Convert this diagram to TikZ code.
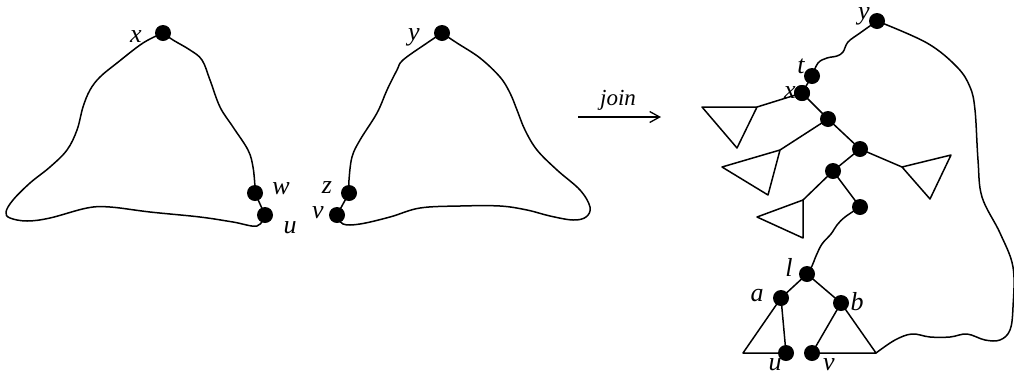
\documentclass[tikz,border=0pt]{standalone}
\usepackage{fontspec}
\setmainfont{Liberation Serif}
\usetikzlibrary{arrows.meta}
\tikzset{
  curve/.style={line width=1.5pt, line join=round, line cap=round},
  edge/.style={line width=1.5pt, line join=round, line cap=round},
  dot/.style={circle, fill=black, inner sep=0pt, minimum size=16pt},
  lab/.style={inner sep=0pt, font=\fontsize{26}{30}\selectfont\itshape},
  joinlab/.style={inner sep=0pt, font=\fontsize{23}{26}\selectfont\itshape},
}
\begin{document}
\begin{tikzpicture}[x=1pt,y=-1pt]
\useasboundingbox (0,0) rectangle (1014,376);
% ---------- left shape A ----------
\node[dot] (xA) at (163,33) {};
\node[dot] (wA) at (255,193) {};
\node[dot] (uA) at (265,215) {};
\draw[curve] plot[smooth, tension=0.6] coordinates {(xA.center) (143,43) (117,63) (100,77) (90,90) (83,107) (77,130) (67,150) (50,167) (30,183) (13,200) (6,212) (10,218) (27,221) (50,218) (87,208) (110,207) (150,212) (200,217) (233,222) (257,226) (uA.center)};
\draw[curve] plot[smooth, tension=0.6] coordinates {(xA.center) (173,40) (190,50) (202,60) (210,80) (220,107) (233,127) (248,150) (253,167) (255,187) (wA.center)};
\draw[edge] (wA.center) -- (uA.center);
\node[lab] (lx) at (136,37) {x};
\node[lab] (lw) at (281,189) {w};
\node[lab] (lu) at (290,228) {u};
% ---------- shape B ----------
\node[dot] (yB) at (442,33) {};
\node[dot] (zB) at (349,193) {};
\node[dot] (vB) at (337,215) {};
\draw[curve] plot[smooth, tension=0.6] coordinates {(yB.center) (427,43) (403,60) (397,70) (387,90) (377,113) (360,140) (352,157) (349,180) (zB.center)};
\draw[edge] (zB.center) -- (vB.center);
\draw[curve] plot[smooth, tension=0.6] coordinates {(vB.center) (343,224) (360,224) (390,217) (420,208) (460,206) (500,206) (527,210) (550,216) (573,220) (586,217) (590,207) (580,190) (557,170) (537,150) (525,130) (517,110) (510,93) (500,77) (480,58) (457,43) (yB.center)};
\node[lab] (ly) at (414,37) {y};
\node[lab] (lz) at (327,188) {z};
\node[lab] (lv) at (318,213) {v};
% ---------- arrow ----------
\coordinate (a1) at (578,117);
\coordinate (a2) at (661,117);
\draw[line width=1.5pt, -{Straight Barb[length=10pt,width=11pt,line width=1.3pt]}] (a1) -- (a2);
\node[joinlab] (lj) at (618,100) {join};
% ---------- right tree ----------
\node[dot] (yR) at (877,21) {};
\node[dot] (tR) at (812,76) {};
\node[dot] (xR) at (802,93) {};
\node[dot] (n1) at (828,119) {};
\node[dot] (n2) at (860,149) {};
\node[dot] (n3) at (833,171) {};
\node[dot] (n4) at (860,207) {};
\node[dot] (lR) at (807,274) {};
\node[dot] (aR) at (781,298) {};
\node[dot] (bR) at (841,303) {};
\node[dot] (uR) at (786,353) {};
\node[dot] (vR) at (812,353) {};
% triangle corners
\coordinate (t1a) at (757,107); \coordinate (t1b) at (702,107); \coordinate (t1c) at (737,148);
\coordinate (t2a) at (780,150); \coordinate (t2b) at (722,167); \coordinate (t2c) at (768,195);
\coordinate (t3a) at (902,167); \coordinate (t3b) at (951,155); \coordinate (t3c) at (930,199);
\coordinate (t4a) at (803,200); \coordinate (t4b) at (757,217); \coordinate (t4c) at (803,238);
\coordinate (ta) at (743,353);
\coordinate (tb) at (876,353);
% wavy y - t
\draw[curve] plot[smooth, tension=0.6] coordinates {(yR.center) (860,33) (848,42) (843,52) (837,56) (827,58) (818,63) (tR.center)};
\draw[edge] (tR.center) -- (xR.center);
\draw[edge] (xR.center) -- (t1a);
\draw[edge] (t1a) -- (t1b) -- (t1c) -- cycle;
\draw[edge] (xR.center) -- (n1.center) -- (n2.center);
\draw[edge] (n1.center) -- (t2a);
\draw[edge] (t2a) -- (t2b) -- (t2c) -- cycle;
\draw[edge] (n2.center) -- (t3a);
\draw[edge] (t3a) -- (t3b) -- (t3c) -- cycle;
\draw[edge] (n2.center) -- (n3.center) -- (n4.center);
\draw[edge] (n3.center) -- (t4a);
\draw[edge] (t4a) -- (t4b) -- (t4c) -- cycle;
\draw[curve] plot[smooth, tension=0.6] coordinates {(n4.center) (845,217) (837,225) (831,234) (822,244) (816,256) (812,266) (lR.center)};
\draw[edge] (aR.center) -- (lR.center) -- (bR.center);
\draw[edge] (aR.center) -- (ta) -- (uR.center) -- cycle;
\draw[edge] (bR.center) -- (vR.center) -- (tb) -- cycle;
\draw[curve] plot[smooth, tension=0.6] coordinates {(tb) (895,340) (912,334) (930,337) (950,337) (967,334) (985,340) (1000,340) (1010,330) (1013,307) (1013,267) (1000,233) (982,197) (978,160) (975,110) (970,87) (957,67) (927,43) (yR.center)};
\node[lab] (lyR) at (864,16) {y};
\node[lab] (ltR) at (801,66) {t};
\node[lab] (lxR) at (790,93) {x};
\node[dot] (xRtop) at (xR) {};
\node[lab] (llR) at (789,267) {l};
\node[lab] (laR) at (757,296) {a};
\node[lab] (lbR) at (857,302) {b};
\node[lab] (luR) at (775,365) {u};
\node[lab] (lvR) at (829,365) {v};
\end{tikzpicture}
\end{document}
